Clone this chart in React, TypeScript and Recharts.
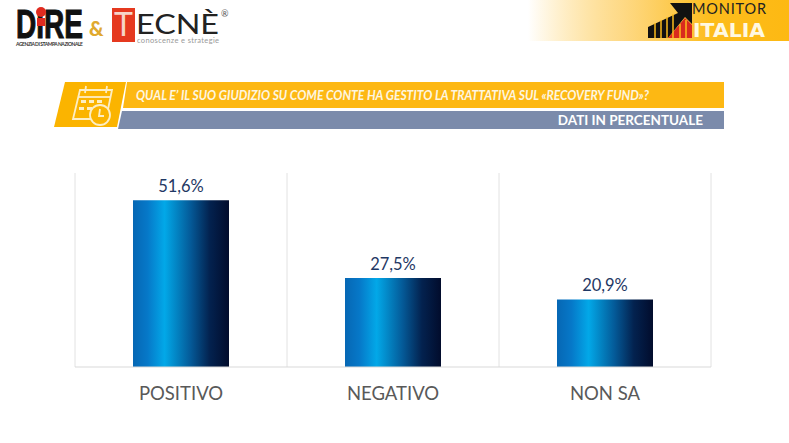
import { BarChart, Bar, XAxis, YAxis, CartesianGrid, LabelList } from 'recharts';

const categories = ['POSITIVO', 'NEGATIVO', 'NON SA'];
const percentages = [51.6, 27.5, 20.9];

const data = categories.map((name, i) => ({ name, value: percentages[i] }));

const FONT = 'Lato, "Open Sans", sans-serif';

function Header() {
  return (
    <svg width={789} height={443} style={{ position: 'absolute', left: 0, top: 0 }}>
      <defs>
        <linearGradient id="topBand" x1="0" y1="0" x2="1" y2="0">
          <stop offset="0%" stopColor="#fdbb1a" stopOpacity={0} />
          <stop offset="35%" stopColor="#fdca55" stopOpacity={0.7} />
          <stop offset="70%" stopColor="#fdbc1c" />
          <stop offset="100%" stopColor="#fdb913" />
        </linearGradient>
      </defs>

      {/* logo left */}
      <text x={16} y={38} fontFamily="Liberation Sans Narrow, Liberation Sans, sans-serif" fontWeight={700} fontSize={40} fill="#111" stroke="#111" strokeWidth={1} textLength={67} lengthAdjust="spacingAndGlyphs">DIRE</text>
      <circle cx={41} cy={12} r={5} fill="#e02b20" />
      <rect x={37} y={18} width={8} height={8} fill="#e02b20" />
      <text x={16} y={45.5} fontFamily={FONT} fontWeight={700} fontSize={5} fill="#333" textLength={67}>AGENZIA DI STAMPA NAZIONALE</text>
      <text x={89} y={36} fontFamily={FONT} fontWeight={900} fontSize={20} fill="#e0a92e">&amp;</text>
      <rect x={112} y={8} width={23} height={34} fill="#e5391f" />
      <text x={123.5} y={36} textAnchor="middle" fontFamily={FONT} fontSize={32} fill="#f6d5c8">T</text>
      <text x={136} y={34} fontFamily={FONT} fontSize={27} fill="#222" textLength={83} lengthAdjust="spacingAndGlyphs">ECNÈ</text>
      <text x={137} y={43} fontFamily={FONT} fontSize={7.5} fill="#999" textLength={82}>conoscenze e strategie</text>
      <text x={221} y={17} fontFamily={FONT} fontSize={9} fill="#555">®</text>

      {/* banda e logo destra */}
      <rect x={528} y={0} width={261} height={41} fill="url(#topBand)" />
      <polygon points="648,38 648,27 678,13 670,3 692,3 692,24 685,17 668,38" fill="#111" />
      <polygon points="668,38 685,18 692,25 692,38" fill="#d92b1e" />
      <g stroke="#fdbc1c" strokeWidth={1.5}>
        <line x1="655" y1="23" x2="655" y2="38" />
        <line x1="661" y1="20" x2="661" y2="38" />
        <line x1="667" y1="17" x2="667" y2="38" />
        <line x1="673" y1="14" x2="673" y2="38" />
        <line x1="680" y1="24" x2="680" y2="38" />
        <line x1="686" y1="20" x2="686" y2="38" />
      </g>
      <text x={692} y={14} fontFamily={FONT} fontSize={14.5} fill="#222" textLength={74}>MONITOR</text>
      <text x={693} y={37} fontFamily="DejaVu Sans, sans-serif" fontWeight={700} fontSize={20} fill="#fff8e2" textLength={72} lengthAdjust="spacingAndGlyphs">ITALIA</text>

      {/* intestazione domanda */}
      <polygon points="65,82 126,82 117,127 54,127" fill="#fbb400" />
      <polygon points="127,82 724,82 724,108 123,108" fill="#fdb813" />
      <polygon points="122,111 724,111 724,129 118,129" fill="#7b8bab" />
      <g fill="none" stroke="#fdeec4" strokeWidth={1.8}>
        <polygon points="80,90 112,90 106,119 73,119" />
        <line x1="79" y1="97" x2="110" y2="97" />
        <line x1="86" y1="86" x2="85" y2="93" />
        <line x1="107" y1="86" x2="106" y2="93" />
        <circle cx={100} cy={115} r={10} fill="#fbb400" />
        <polyline points="100,109 99,116 104,116" />
      </g>
      <g fill="#fdeec4">
        <rect x={81} y={100} width={5} height={3} />
        <rect x={89} y={100} width={5} height={3} />
        <rect x={97} y={100} width={5} height={3} />
        <rect x={79} y={107} width={5} height={3} />
        <rect x={87} y={107} width={5} height={3} />
      </g>
      <text x={136} y={100} fontFamily={FONT} fontWeight={700} fontStyle="italic" fontSize={12.5} fill="#fdf6e0" textLength={513} lengthAdjust="spacingAndGlyphs">QUAL E’ IL SUO GIUDIZIO SU COME CONTE HA GESTITO LA TRATTATIVA SUL «RECOVERY FUND»?</text>
      <text x={703} y={125} textAnchor="end" fontFamily={FONT} fontWeight={700} fontSize={13.5} fill="#fff">DATI IN PERCENTUALE</text>
    </svg>
  );
}

export default function App() {
  return (
    <div style={{ position: 'absolute', left: 0, top: 0, width: 789, height: 443, background: '#fff', overflow: 'hidden' }}>
      <Header />
      <div style={{ position: 'absolute', left: 0, top: 0 }}>
        <BarChart
          width={789}
          height={443}
          data={data}
          margin={{ top: 173, right: 78, bottom: 46, left: 75 }}
          barSize={96}
        >
          <defs>
            <linearGradient id="barGrad" x1="0" y1="0" x2="1" y2="0">
              <stop offset="0%" stopColor="#0667b4" />
              <stop offset="15%" stopColor="#0678c8" />
              <stop offset="33%" stopColor="#02a8e8" />
              <stop offset="60%" stopColor="#045a98" />
              <stop offset="80%" stopColor="#03224f" />
              <stop offset="100%" stopColor="#020c2c" />
            </linearGradient>
          </defs>
          <CartesianGrid
            horizontal={false}
            stroke="#e2e2e2"
            verticalCoordinatesGenerator={({ offset }: any) =>
              categories.concat('').map((_, i) => offset.left + (offset.width * i) / categories.length)
            }
          />
          <YAxis hide domain={[0, 60]} />
          <XAxis
            dataKey="name"
            height={30}
            axisLine={{ stroke: '#d9d9d9' }}
            tickLine={false}
            tickMargin={14}
            tick={{ fontFamily: FONT, fontSize: 18.5, fill: '#595959' }}
          />
          <Bar dataKey="value" fill="url(#barGrad)" isAnimationActive={false}>
            <LabelList
              dataKey="value"
              position="top"
              offset={8}
              formatter={(v: unknown) => `${String(v).replace('.', ',')}%`}
              style={{ fontFamily: FONT, fontSize: 16.5, fill: '#1f3864' }}
            />
          </Bar>
        </BarChart>
      </div>
    </div>
  );
}
